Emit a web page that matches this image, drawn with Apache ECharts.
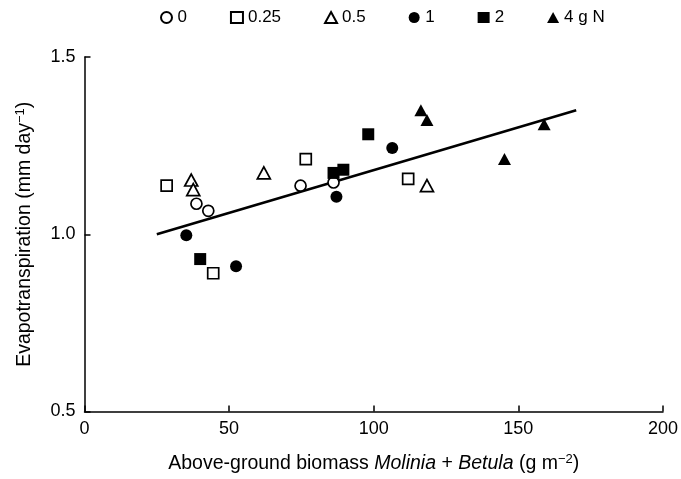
<!DOCTYPE html>
<html>
<head>
<meta charset="utf-8">
<script src="https://cdn.jsdelivr.net/npm/echarts@6/dist/echarts.min.js"></script>
<style>html,body{margin:0;padding:0;background:#fff;}#c{width:681px;height:479px;}</style>
</head>
<body>
<div id="c"></div>
<script>
var seriesNames = ['0', '0.25', '0.5', '1', '2', '4 g N'];
var n0 = [[38.7, 1.086], [42.8, 1.066], [74.7, 1.137], [86.1, 1.146]];
var n025 = [[28.4, 1.137], [44.5, 0.890], [76.5, 1.212], [111.9, 1.156]];
var n05 = [[36.9, 1.153], [37.6, 1.126], [62.0, 1.173], [118.4, 1.137]];
var n1 = [[35.2, 0.997], [52.4, 0.910], [87.1, 1.106], [106.4, 1.243]];
var n2 = [[40.0, 0.930], [86.1, 1.173], [89.5, 1.182], [98.1, 1.282]];
var n4 = [[116.3, 1.350], [118.4, 1.322], [145.2, 1.212], [158.9, 1.310]];
var regression = [[25, 1.0], [170, 1.35]];
var xTicks = [0, 50, 100, 150, 200];
var yTicks = [0.5, 1.0, 1.5];

var font = 'Liberation Sans, Arial, sans-serif';
var symbols = ['circle', 'rect', 'triangle', 'circle', 'rect', 'triangle'];
var filled = [false, false, false, true, true, true];
var sizes = [11, 11, [13, 12], 12, 12, [13, 12]];
var datasets = [n0, n025, n05, n1, n2, n4];

var series = datasets.map(function (d, i) {
  return {
    name: seriesNames[i],
    type: 'scatter',
    data: d,
    symbol: symbols[i],
    symbolSize: sizes[i],
    itemStyle: filled[i]
      ? { color: '#000', borderColor: '#000', borderWidth: 0, opacity: 1 }
      : { color: '#fff', borderColor: '#000', borderWidth: 1.7, opacity: 1 },
    z: 3
  };
});
series.push({
  name: 'fit',
  type: 'line',
  data: regression,
  symbol: 'none',
  lineStyle: { color: '#000', width: 2.6 },
  z: 2,
  silent: true
});

var chart = echarts.init(document.getElementById('c'), null, { renderer: 'canvas' });
chart.setOption({
  animation: false,
  backgroundColor: '#fff',
  textStyle: { fontFamily: font, color: '#000' },
  legend: {
    data: seriesNames.map(function (n, i) { return { name: n, icon: symbols[i] }; }),
    left: 155,
    top: 4,
    itemGap: 43,
    itemWidth: 12,
    itemHeight: 11,
    textStyle: { fontFamily: font, fontSize: 17, color: '#000' }
  },
  grid: { left: 84.5, right: 14.5, top: 57, bottom: 64.7, containLabel: false },
  xAxis: {
    type: 'value',
    min: xTicks[0],
    max: xTicks[xTicks.length - 1],
    interval: 50,
    name: '{n|Above-ground biomass }{i|Molinia}{n| + }{i|Betula}{n| (g m}{s|−2}{n|)}',
    nameLocation: 'middle',
    nameGap: 41,
    nameTextStyle: {
      rich: {
        n: { fontFamily: font, fontSize: 19.5, color: '#000' },
        i: { fontFamily: font, fontSize: 19.5, fontStyle: 'italic', color: '#000' },
        s: { fontFamily: font, fontSize: 13, color: '#000', verticalAlign: 'top', padding: [0, 0, 10, 0] }
      }
    },
    axisLine: { show: true, onZero: false, lineStyle: { color: '#000', width: 1.5 } },
    axisTick: { show: true, inside: true, length: 6, lineStyle: { color: '#000', width: 1.5 } },
    axisLabel: { fontFamily: font, fontSize: 18, color: '#000', margin: 9 },
    splitLine: { show: false }
  },
  yAxis: {
    type: 'value',
    min: yTicks[0],
    max: yTicks[yTicks.length - 1],
    interval: 0.5,
    name: '{n|Evapotranspiration (mm day}{s|−1}{n|)}',
    nameLocation: 'middle',
    nameGap: 48,
    nameTextStyle: {
      rich: {
        n: { fontFamily: font, fontSize: 19.5, color: '#000' },
        s: { fontFamily: font, fontSize: 13, color: '#000', verticalAlign: 'top', padding: [0, 0, 10, 0] }
      }
    },
    axisLine: { show: true, onZero: false, lineStyle: { color: '#000', width: 1.5 } },
    axisTick: { show: true, inside: true, length: 6, lineStyle: { color: '#000', width: 1.5 } },
    axisLabel: { fontFamily: font, fontSize: 18, color: '#000', margin: 9,
      formatter: function (v) { return v.toFixed(1); } },
    splitLine: { show: false }
  },
  series: series
});
</script>
</body>
</html>
